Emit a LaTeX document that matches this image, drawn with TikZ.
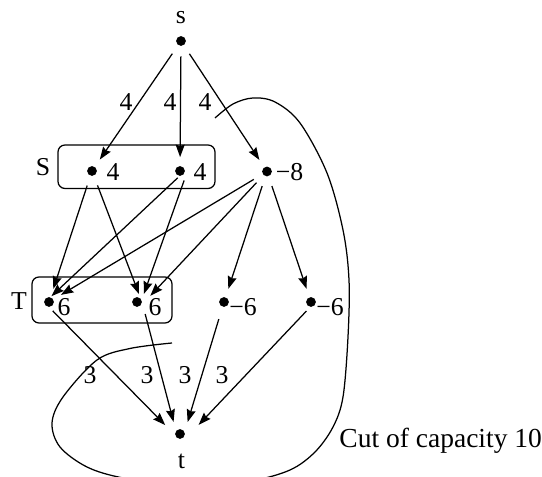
\documentclass[tikz,border=0pt]{standalone}
\usepackage{fontspec}
\setmainfont{Liberation Serif}
\usetikzlibrary{arrows.meta}
\begin{document}
\begin{tikzpicture}[x=0.4pt,y=-0.4pt,
  vtx/.style={circle,fill=black,inner sep=0pt,minimum size=3.9pt},
  lbl/.style={inner sep=0pt,font=\fontsize{10.3}{12}\selectfont},
  arr/.style={line width=0.5pt,-{Stealth[length=5pt,width=3.6pt,inset=0.6pt]},shorten <=4pt,shorten >=3.4pt},
  arrt/.style={arr,shorten >=5pt,shorten <=5pt},
  grp/.style={draw,line width=0.5pt,rounded corners=2.8pt},
  cutline/.style={line width=0.5pt}]
\useasboundingbox (0,0) rectangle (542,477);
\clip (0,0) rectangle (542,477);
% vertices
\node[vtx] (s) at (181,41) {};
\node[vtx] (S1) at (92,171) {};
\node[vtx] (S2) at (180,171) {};
\node[vtx] (M) at (267,171.5) {};
\node[vtx] (T1) at (49,302) {};
\node[vtx] (T2) at (137,302) {};
\node[vtx] (U1) at (224,302) {};
\node[vtx] (U2) at (311,302) {};
\node[vtx] (t) at (180,434) {};
% vertex labels
\node[lbl] (ls) at (181,18) {s};
\node[lbl] (lt) at (181.5,461) {t};
\node[lbl] (lS1) at (113,172) {4};
\node[lbl] (lS2) at (200,172) {4};
\node[lbl] (lM) at (289.5,172) {−8};
\node[lbl] (lT1) at (64,307) {6};
\node[lbl] (lT2) at (155,307) {6};
\node[lbl] (lU1) at (243,307) {−6};
\node[lbl] (lU2) at (330,307) {−6};
\node[lbl] (gS) at (43,167.5) {S};
\node[lbl] (gT) at (19,301) {T};
% groups
\draw[grp] (58,145) rectangle (215,188.5);
\draw[grp] (32,277) rectangle (172,323);
% arrows
\draw[arr] (s) -- (S1);
\draw[arr] (s) -- (S2);
\draw[arr] (s) -- (M);
\draw[arr] (S1) -- (T1);
\draw[arr] (S1) -- ([xshift=2pt]T2.center);
\draw[arr] ([xshift=2pt]S2.center) -- ([xshift=-1.5pt]T1.center);
\draw[arr] ([xshift=3pt]S2.center) -- ([xshift=1.6pt]T2.center);
\draw[arr] (M) -- (T1);
\draw[arr] (M) -- ([xshift=3pt]T2.center);
\draw[arr] (M) -- (U1);
\draw[arr] (M) -- (U2);
\draw[arrt] ([xshift=-2pt]T1.center) -- ([xshift=-2.4pt]t.center);
\draw[arrt] ([xshift=2pt]T2.center) -- ([xshift=-1.3pt]t.center);
\draw[arrt] (U1) -- ([xshift=1.6pt]t.center);
\draw[arrt] ([xshift=1.6pt]U2.center) -- ([xshift=4pt]t.center);
% edge labels
\node[lbl] (e1) at (126,102.5) {4};
\node[lbl] (e2) at (170,102.5) {4};
\node[lbl] (e3) at (205,102.5) {4};
\node[lbl] (f1) at (90,375) {3};
\node[lbl] (f2) at (147,375) {3};
\node[lbl] (f3) at (185,375) {3};
\node[lbl] (f4) at (222,375) {3};
% cut
\coordinate (cutA) at (172,343);
\coordinate (cutB) at (215,118);
\draw[cutline] plot[smooth,tension=0.55] coordinates {(172,343) (130,348.5) (97,360) (63,397) (52,423) (60,447) (87,467) (123,478) (185,487) (250,481) (290,470) (315,452) (333,427) (343,397) (348,337) (349,280) (343,230) (327,173) (300,123) (275,102) (253,98) (233,104) (215,118)};
\node[anchor=base west,inner sep=0pt,font=\fontsize{11}{13}\selectfont] (cut) at (339,447.5) {Cut of capacity 10};
\end{tikzpicture}
\end{document}
